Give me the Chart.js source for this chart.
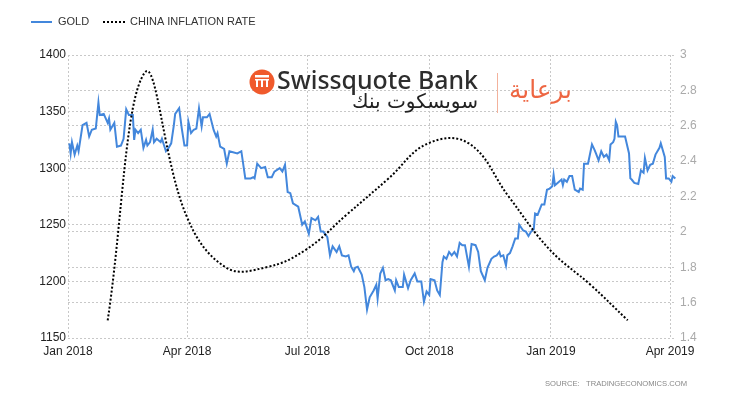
<!DOCTYPE html>
<html>
<head>
<meta charset="utf-8">
<script src="https://cdn.jsdelivr.net/npm/chart.js@4.4.1/dist/chart.umd.min.js"></script>
<style>
  html, body { margin: 0; padding: 0; background: #fff; }
  #wrap { width: 730px; height: 400px; position: relative; }
</style>
</head>
<body>
<div id="wrap"><canvas id="chart" width="730" height="400"></canvas></div>
<script>
// days counted from 1 Jan 2018
const goldDays = [1,2,3,5,7,8,11,14,16,18,21,23,24,27,30,31,32,35,37,40,42,44,46,49,50,51,53,55,57,59,60,62,64,65,67,70,71,74,76,78,80,81,84,86,88,90,91,93,95,97,99,101,102,105,107,110,112,113,115,118,120,122,128,131,134,138,140,141,143,146,149,151,154,156,160,162,164,166,168,170,174,177,179,182,184,187,189,191,193,196,198,200,203,205,207,210,212,214,216,217,219,222,224,226,228,231,233,234,236,238,240,242,244,247,248,250,253,254,257,259,262,264,267,269,271,273,274,277,279,281,283,284,286,288,290,292,294,296,298,300,303,305,308,310,312,315,317,320,322,324,326,327,329,331,332,334,336,338,340,341,344,346,348,350,352,353,355,358,360,362,364,366,367,368,370,373,374,375,377,379,381,383,386,387,389,390,393,396,398,399,401,403,405,407,409,410,412,413,414,415,416,418,421,424,425,426,428,431,433,435,436,438,440,442,444,447,448,451,452,454,456,457,459];
const goldPrices = [1322,1313,1323,1312,1320,1315,1338,1340,1328,1334,1335,1358,1347,1348,1340,1344,1334,1340,1319,1320,1326,1352,1347,1347,1325,1334,1331,1334,1318,1325,1320,1323,1334,1323,1326,1323,1326,1315,1318,1322,1338,1348,1353,1335,1320,1320,1341,1331,1334,1335,1353,1337,1345,1345,1348,1334,1328,1331,1319,1317,1304,1315,1313,1315,1291,1291,1292,1291,1304,1300,1301,1292,1292,1297,1300,1297,1303,1279,1278,1269,1266,1250,1253,1242,1256,1254,1257,1244,1244,1239,1223,1231,1226,1231,1223,1222,1223,1213,1209,1212,1213,1206,1195,1175,1186,1192,1197,1185,1207,1212,1201,1202,1201,1192,1201,1195,1195,1206,1194,1201,1207,1200,1200,1182,1191,1188,1202,1201,1192,1188,1217,1222,1220,1226,1223,1226,1222,1234,1232,1232,1213,1233,1232,1226,1209,1201,1212,1220,1222,1223,1226,1222,1223,1214,1223,1225,1231,1238,1238,1250,1245,1244,1240,1244,1246,1260,1259,1268,1268,1281,1282,1284,1294,1285,1287,1290,1285,1290,1288,1293,1293,1281,1279,1282,1281,1304,1304,1321,1316,1313,1307,1315,1310,1312,1307,1321,1323,1326,1341,1338,1328,1328,1328,1313,1291,1290,1287,1286,1298,1296,1309,1298,1303,1304,1312,1318,1322,1310,1291,1291,1288,1293,1291];

// month-end readings
const inflationDays = [30,58,89,119,150,180,211,242,272,303,333,364,395,423];
const inflationRates = [1.5,2.9,2.1,1.8,1.8,1.9,2.1,2.3,2.5,2.5,2.2,1.9,1.7,1.5];

const xTickDays = [0,90,181,273,365,455];
const xTickLabels = ['Jan 2018','Apr 2018','Jul 2018','Oct 2018','Jan 2019','Apr 2019'];

const GOLD_COLOR = '#4387dc';
const FONT = "'Liberation Sans', Arial, sans-serif";

function fitText(ctx, text, fontTpl, size, width) {
    ctx.font = fontTpl.replace('{s}', size);
    const w = ctx.measureText(text).width;
    const s = size * width / w;
    ctx.font = fontTpl.replace('{s}', s.toFixed(2));
}

// legend, sponsor logo and source line
const decorations = {
    id: 'decorations',
    afterDraw(chart) {
        const ctx = chart.ctx;
        ctx.save();

        // legend
        ctx.lineWidth = 2;
        ctx.strokeStyle = GOLD_COLOR;
        ctx.beginPath(); ctx.moveTo(31, 22); ctx.lineTo(52, 22); ctx.stroke();
        ctx.strokeStyle = '#000';
        ctx.setLineDash([2, 2]);
        ctx.beginPath(); ctx.moveTo(103, 22); ctx.lineTo(125, 22); ctx.stroke();
        ctx.setLineDash([]);
        ctx.fillStyle = '#333';
        ctx.font = '11px ' + FONT;
        ctx.textBaseline = 'middle';
        ctx.fillText('GOLD', 58, 22);
        ctx.fillText('CHINA INFLATION RATE', 130, 22);

        // logo
        ctx.fillStyle = '#f05a2c';
        ctx.beginPath(); ctx.arc(262, 82, 12.5, 0, Math.PI * 2); ctx.fill();
        ctx.fillStyle = '#fff';
        ctx.fillRect(255, 75, 14, 2.5);
        ctx.fillRect(255, 79, 14, 1.5);
        ctx.fillRect(256, 80, 2, 7);
        ctx.fillRect(261, 80, 2, 7);
        ctx.fillRect(266, 80, 2, 7);

        ctx.textBaseline = 'alphabetic';
        ctx.fillStyle = '#2d2d2d';
        ctx.textAlign = 'left';
        fitText(ctx, 'Swissquote Bank', "500 {s}px 'Noto Sans', sans-serif", 25, 201);
        ctx.fillText('Swissquote Bank', 277, 89);

        ctx.fillStyle = '#222';
        ctx.textAlign = 'right';
        fitText(ctx, 'سويسكوت بنك', "{s}px 'DejaVu Sans', sans-serif", 18, 126);
        ctx.fillText('سويسكوت بنك', 478, 108);

        ctx.strokeStyle = '#f3b29c';
        ctx.lineWidth = 1;
        ctx.beginPath(); ctx.moveTo(497.5, 73); ctx.lineTo(497.5, 113); ctx.stroke();

        ctx.fillStyle = '#ee6642';
        ctx.textAlign = 'left';
        fitText(ctx, 'برعاية', "{s}px 'DejaVu Sans', sans-serif", 22, 63);
        ctx.fillText('برعاية', 509, 98);

        // source
        ctx.fillStyle = '#888';
        fitText(ctx, 'SOURCE:   TRADINGECONOMICS.COM', '{s}px ' + FONT, 9, 142);
        ctx.fillText('SOURCE:   TRADINGECONOMICS.COM', 545, 386);

        ctx.restore();
    }
};

const goldData = goldDays.map((d, i) => ({ x: d, y: goldPrices[i] }));
const inflationData = inflationDays.map((d, i) => ({ x: d, y: inflationRates[i] }));

const ctx = document.getElementById('chart').getContext('2d');
new Chart(ctx, {
    type: 'line',
    data: {
        datasets: [
            {
                label: 'GOLD',
                data: goldData,
                yAxisID: 'y',
                borderColor: GOLD_COLOR,
                borderWidth: 2,
                pointRadius: 0,
                tension: 0,
                order: 1
            },
            {
                label: 'CHINA INFLATION RATE',
                data: inflationData,
                yAxisID: 'y1',
                borderColor: '#000',
                borderWidth: 2,
                borderDash: [2, 2],
                pointRadius: 0,
                tension: 0.4,
                order: 0
            }
        ]
    },
    options: {
        responsive: false,
        animation: false,
        layout: { padding: { top: 55, bottom: 30, left: 0, right: 0 } },
        plugins: { legend: { display: false }, tooltip: { enabled: false } },
        scales: {
            x: {
                type: 'linear',
                min: 0,
                max: 459.5,
                afterBuildTicks: (scale) => { scale.ticks = xTickDays.map(v => ({ value: v })); },
                afterFit: (scale) => { scale.height = 32; },
                ticks: {
                    autoSkip: false,
                    maxRotation: 0,
                    padding: 6,
                    color: '#222',
                    font: { size: 12, family: FONT },
                    callback: (v) => xTickLabels[xTickDays.indexOf(v)]
                },
                grid: { color: '#c8c8c8', drawTicks: false },
                border: { display: false, dash: [2, 2] }
            },
            y: {
                position: 'left',
                min: 1150,
                max: 1400,
                afterFit: (scale) => { scale.width = 68; },
                ticks: {
                    stepSize: 50,
                    padding: 2,
                    color: '#222',
                    font: { size: 12, family: FONT },
                    callback: (v) => String(v)
                },
                grid: { color: '#c8c8c8', drawTicks: false },
                border: { display: false, dash: [2, 2] }
            },
            y1: {
                position: 'right',
                min: 1.4,
                max: 3,
                afterFit: (scale) => { scale.width = 54; },
                ticks: {
                    stepSize: 0.2,
                    padding: 4,
                    color: '#aaa',
                    font: { size: 12, family: FONT },
                    callback: (v) => String(Number(v.toFixed(1)))
                },
                grid: { color: '#c8c8c8', drawTicks: false },
                border: { display: false, dash: [2, 2] }
            }
        }
    },
    plugins: [decorations]
});
</script>
</body>
</html>
